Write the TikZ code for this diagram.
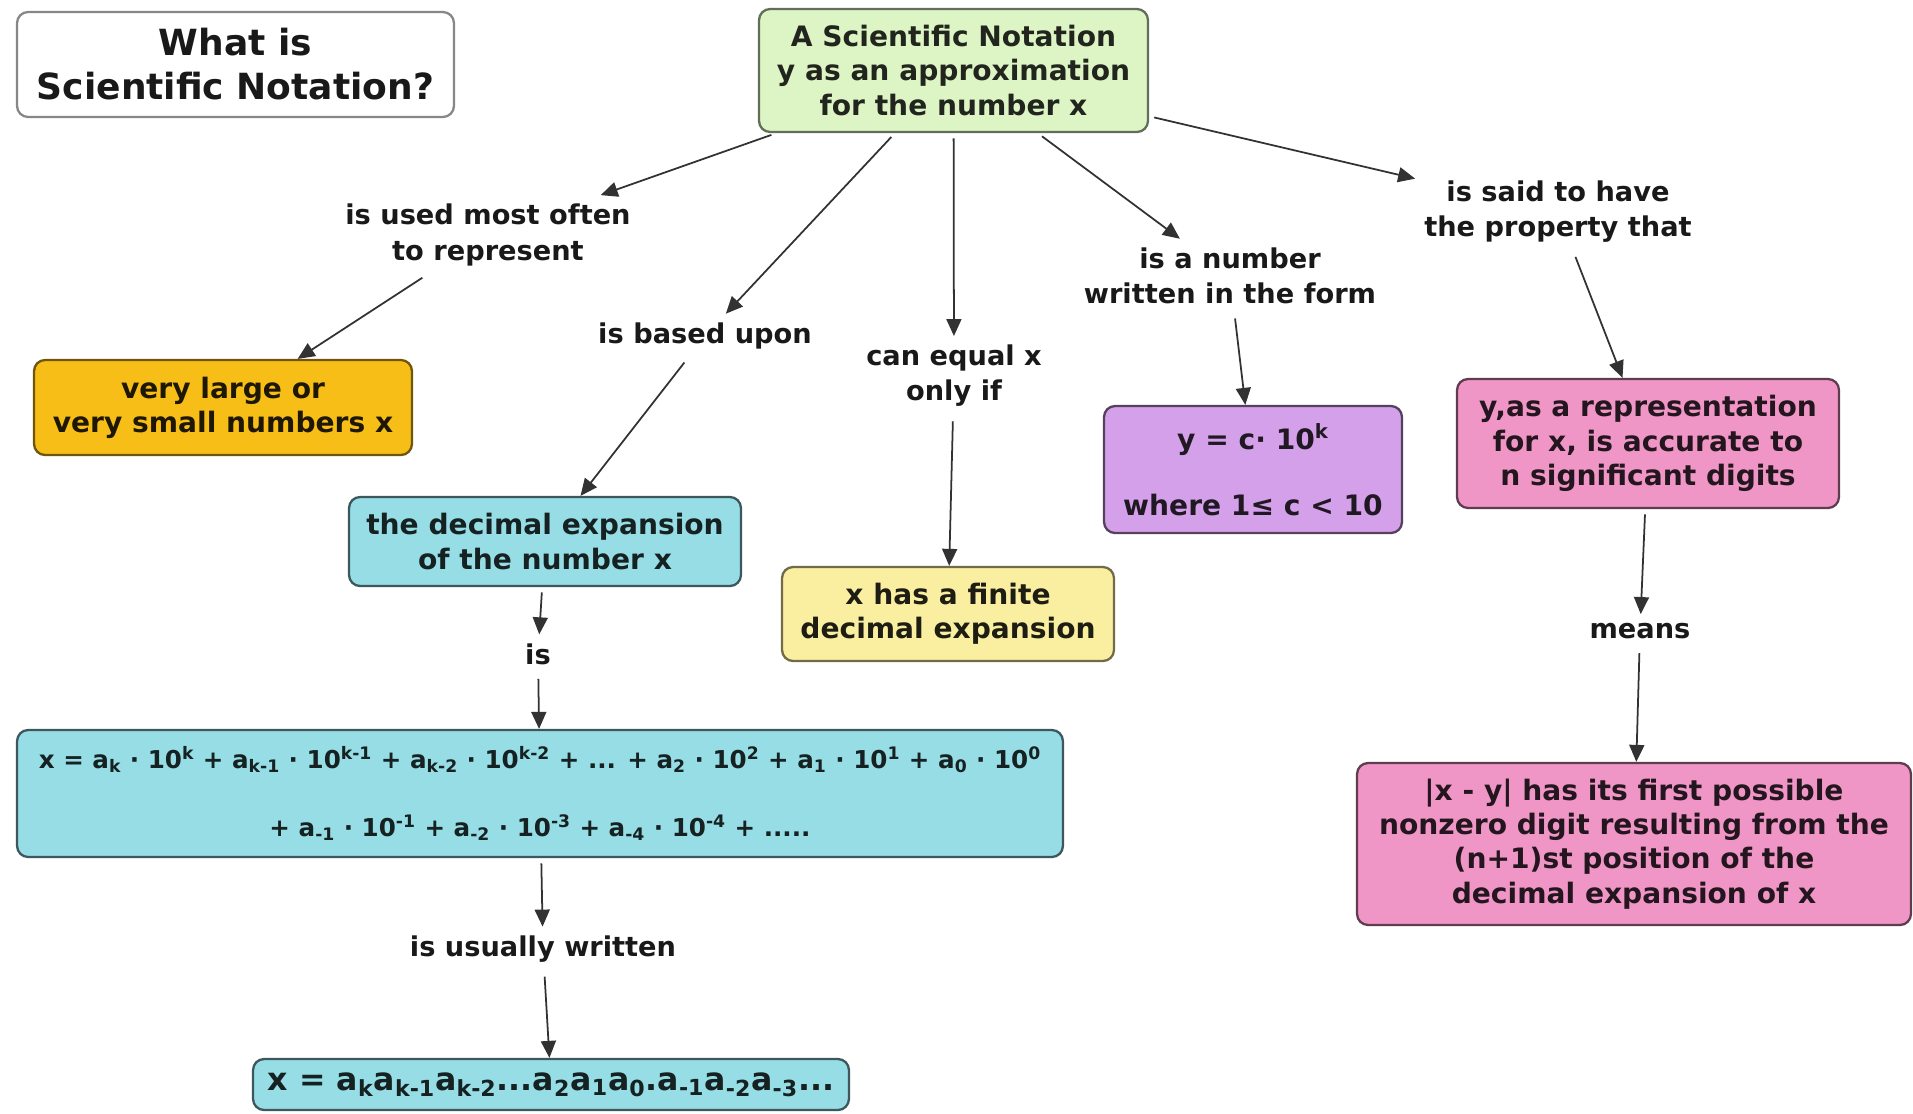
\documentclass[tikz,border=0pt]{standalone}
\usepackage{fontspec}
\setmainfont{DejaVu Sans}
\usepackage{xcolor}
\usepackage{tikz}
\usetikzlibrary{arrows.meta,shapes}

\definecolor{boxgreen}{RGB}{221,244,197}
\definecolor{boxorange}{RGB}{246,190,22}
\definecolor{boxcyan}{RGB}{150,221,230}
\definecolor{boxyellow}{RGB}{250,238,160}
\definecolor{boxpurple}{RGB}{212,160,234}
\definecolor{boxpink}{RGB}{240,150,198}
\definecolor{linegray}{RGB}{50,50,50}
\definecolor{titlegray}{RGB}{135,135,135}

\begin{document}
\begin{tikzpicture}[x=0.02cm,y=-0.02cm,>={Triangle[length=0.34cm,width=0.3cm]},
concept/.style={draw,rounded corners=0.22cm,line width=1.3pt,align=center,
  font=\bfseries\fontsize{16}{19.5}\selectfont,inner sep=0pt},
linking/.style={align=center,font=\bfseries\fontsize{15.5}{20}\selectfont,
  text=black!90,inner sep=5pt},
link/.style={->,line width=1pt,draw=linegray,shorten <=3pt}]
\useasboundingbox (0,0) rectangle (1913,1113);

\node[concept,draw=titlegray,fill=white,minimum width=8.74cm,minimum height=2.1cm,
  font=\bfseries\fontsize{20.5}{25}\selectfont,text=black!90] (title) at (235.5,64.5)
  {What is\\Scientific Notation?};
\node[concept,fill=boxgreen,draw=boxgreen!45!black,text=boxgreen!15!black,
  minimum width=7.78cm,minimum height=2.46cm] (notation) at (953.5,70.5)
  {A Scientific Notation\\y as an approximation\\for the number x};
\node[concept,fill=boxorange,draw=boxorange!45!black,text=boxorange!12!black,
  minimum width=7.56cm,minimum height=1.9cm] (large) at (223,407.5)
  {very large or\\very small numbers x};
\node[concept,fill=boxcyan,draw=boxcyan!40!black,text=boxcyan!15!black,
  minimum width=7.84cm,minimum height=1.78cm] (decimal) at (545,541.5)
  {the decimal expansion\\of the number x};
\node[concept,fill=boxcyan,draw=boxcyan!40!black,text=boxcyan!15!black,
  minimum width=20.92cm,minimum height=2.54cm,font=\bfseries\fontsize{14}{17}\selectfont] (series) at (540,793.5)
  {x = a\textsubscript{k} · 10\textsuperscript{k} + a\textsubscript{k-1} · 10\textsuperscript{k-1} + a\textsubscript{k-2} · 10\textsuperscript{k-2} + ... + a\textsubscript{2} · 10\textsuperscript{2} + a\textsubscript{1} · 10\textsuperscript{1} + a\textsubscript{0} · 10\textsuperscript{0}\\[22pt]
   + a\textsubscript{-1} · 10\textsuperscript{-1} + a\textsubscript{-2} · 10\textsuperscript{-3} + a\textsubscript{-4} · 10\textsuperscript{-4} + .....};
\node[concept,fill=boxcyan,draw=boxcyan!40!black,text=boxcyan!15!black,
  minimum width=11.92cm,minimum height=1.02cm,font=\bfseries\fontsize{18}{20}\selectfont] (digits) at (551,1084.5)
  {x = a\textsubscript{k}a\textsubscript{k-1}a\textsubscript{k-2}...a\textsubscript{2}a\textsubscript{1}a\textsubscript{0}.a\textsubscript{-1}a\textsubscript{-2}a\textsubscript{-3}...};
\node[concept,fill=boxyellow,draw=boxyellow!45!black,text=boxyellow!12!black,
  minimum width=6.64cm,minimum height=1.88cm] (finite) at (948,614)
  {x has a finite\\decimal expansion};
\node[concept,fill=boxpurple,draw=boxpurple!40!black,text=boxpurple!15!black,
  minimum width=5.96cm,minimum height=2.54cm] (form) at (1253,469.5)
  {y = c· 10\textsuperscript{k}\\[18pt]where 1≤ c < 10};
\node[concept,fill=boxpink,draw=boxpink!40!black,text=boxpink!15!black,
  minimum width=7.64cm,minimum height=2.58cm] (accurate) at (1648,443.5)
  {y,as a representation\\for x, is accurate to\\n significant digits};
\node[concept,fill=boxpink,draw=boxpink!40!black,text=boxpink!15!black,
  minimum width=11.08cm,minimum height=3.24cm] (nonzero) at (1634,844)
  {|x - y| has its first possible\\nonzero digit resulting from the\\(n+1)st position of the\\decimal expansion of x};

\node[linking] (usedfor) at (488,235) {is used most often\\to represent};
\node[linking] (basedon) at (705,336) {is based upon};
\node[linking] (equalif) at (954,376) {can equal x\\only if};
\node[linking] (writtenas) at (1230,276) {is a number\\written in the form};
\node[linking] (property) at (1558,212) {is said to have\\the property that};
\node[linking] (isis) at (538,654) {is};
\node[linking] (usually) at (543,949) {is usually written};
\node[linking] (means) at (1640,631) {means};

\draw[link] (notation)--(usedfor);
\draw[link] (usedfor)--(large);
\draw[link] (notation)--(basedon);
\draw[link] (basedon)--(decimal);
\draw[link] (notation)--(equalif);
\draw[link] (equalif)--(finite);
\draw[link] (notation)--(writtenas);
\draw[link] (writtenas)--(form);
\draw[link] (notation)--(property);
\draw[link] (property)--(accurate);
\draw[link] (accurate)--(means);
\draw[link] (means)--(nonzero);
\draw[link] (decimal)--(isis);
\draw[link] (isis)--(series);
\draw[link] (series)--(usually);
\draw[link] (usually)--(digits);
\end{tikzpicture}
\end{document}
